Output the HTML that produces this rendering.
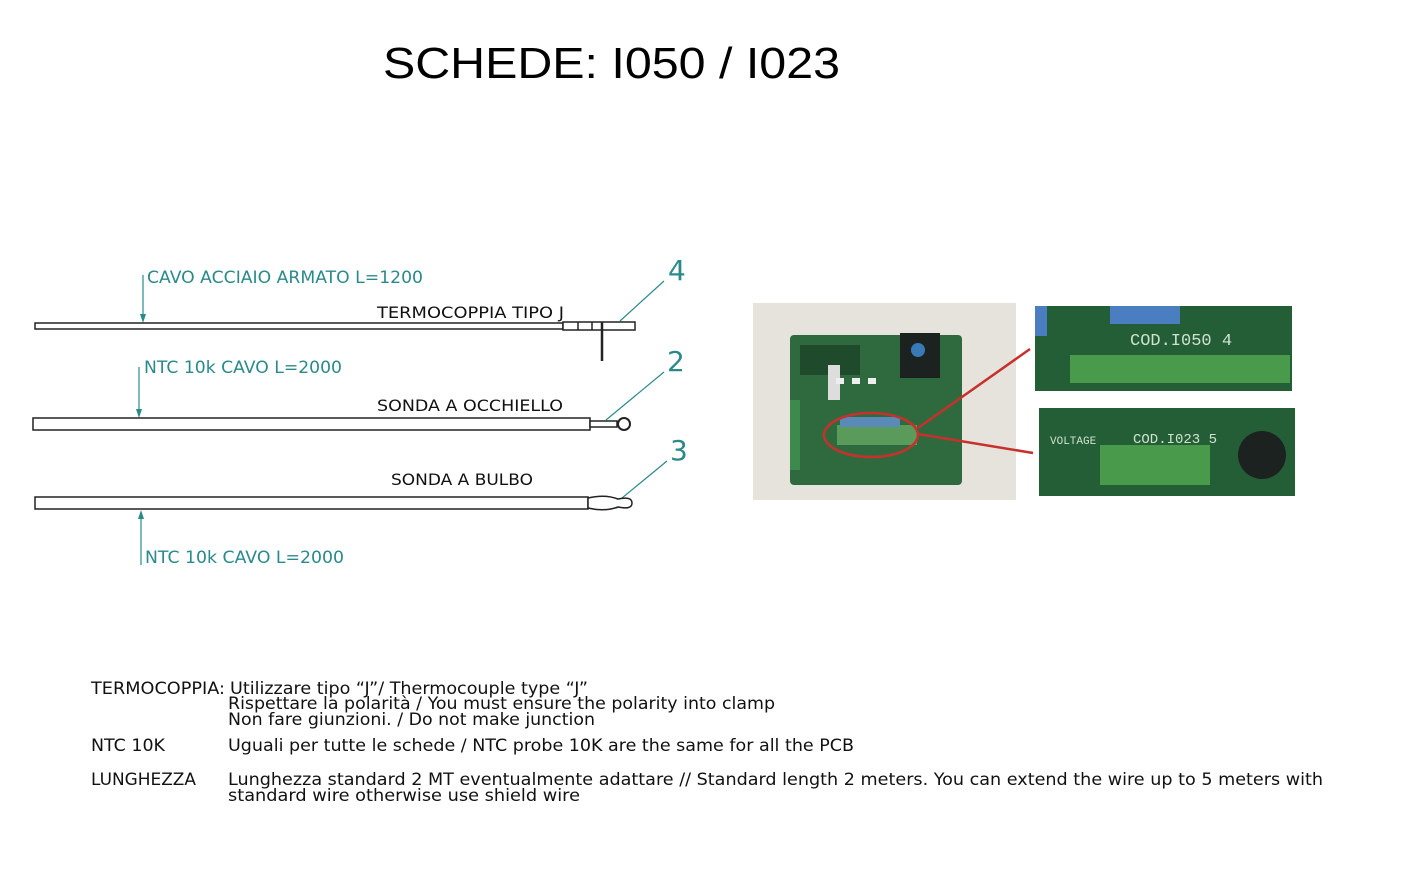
<!DOCTYPE html>
<html><head><meta charset="utf-8"><style>
html,body{margin:0;padding:0;background:#fff;}
svg{display:block;font-family:"DejaVu Sans","Liberation Sans",sans-serif;}
</style></head><body>
<svg width="1410" height="879" viewBox="0 0 1410 879" xmlns="http://www.w3.org/2000/svg">
<rect width="1410" height="879" fill="#fff"/>
<text x="383" y="78" font-size="44" font-family="Liberation Sans, sans-serif" textLength="457" lengthAdjust="spacingAndGlyphs">SCHEDE: I050 / I023</text>

<g stroke="#2a8a8a" fill="#2a8a8a" stroke-width="1.2">
<line x1="143" y1="275" x2="143" y2="320"/><polygon points="140,314 146,314 143,323" stroke="none"/>
<line x1="139" y1="367" x2="139" y2="414"/><polygon points="136,409 142,409 139,418" stroke="none"/>
<line x1="141" y1="565" x2="141" y2="514"/><polygon points="138,519 144,519 141,510" stroke="none"/>
<line x1="664" y1="281" x2="620" y2="321"/>
<line x1="664" y1="372" x2="606" y2="420"/>
<line x1="667" y1="461" x2="622" y2="498"/>
</g>
<g fill="#2a8a8a" font-size="17">
<text x="147" y="283" textLength="276" lengthAdjust="spacingAndGlyphs">CAVO ACCIAIO ARMATO L=1200</text>
<text x="144" y="373" textLength="198" lengthAdjust="spacingAndGlyphs">NTC 10k CAVO L=2000</text>
<text x="145" y="563" textLength="199" lengthAdjust="spacingAndGlyphs">NTC 10k CAVO L=2000</text>
<text x="668" y="280" font-size="28">4</text>
<text x="667" y="371" font-size="28">2</text>
<text x="670" y="460" font-size="28">3</text>
</g>
<g fill="#111" font-size="16">
<text x="377" y="318" textLength="187" lengthAdjust="spacingAndGlyphs">TERMOCOPPIA TIPO J</text>
<text x="377" y="411" textLength="186" lengthAdjust="spacingAndGlyphs">SONDA A OCCHIELLO</text>
<text x="391" y="485" textLength="142" lengthAdjust="spacingAndGlyphs">SONDA A BULBO</text>
</g>
<g fill="#fff" stroke="#222" stroke-width="1.5">
<rect x="35" y="323" width="528" height="6"/>
<rect x="563" y="322" width="72" height="8"/>
<line x1="578" y1="322" x2="578" y2="330"/>
<line x1="592" y1="322" x2="592" y2="330"/>
<line x1="602" y1="322" x2="602" y2="361" stroke-width="2.5"/>
<rect x="33" y="418" width="557" height="12"/>
<rect x="590" y="421" width="27" height="6"/>
<circle cx="624" cy="424" r="6" stroke-width="2"/>
<rect x="35" y="497" width="553" height="12"/>
<path d="M588,498 Q605,494 618,499 Q632,496 632,503 Q632,510 618,507 Q605,512 588,508 Z"/>
</g>

<rect x="753" y="303" width="263" height="197" fill="#e6e3dc"/>
<rect x="790" y="335" width="172" height="150" fill="#2f6a3e" rx="4"/>
<rect x="800" y="345" width="60" height="30" fill="#1f4a2c"/>
<rect x="900" y="333" width="40" height="45" fill="#1c2220"/>
<circle cx="918" cy="350" r="7" fill="#3a79b8"/>
<rect x="828" y="365" width="12" height="35" fill="#ddd"/>
<rect x="836" y="378" width="8" height="6" fill="#eee"/><rect x="852" y="378" width="8" height="6" fill="#eee"/><rect x="868" y="378" width="8" height="6" fill="#eee"/>
<rect x="790" y="400" width="10" height="70" fill="#3c8a4c"/>
<rect x="837" y="425" width="80" height="20" fill="#5a9a5a"/>
<rect x="840" y="417" width="60" height="10" fill="#5a8ab8"/>
<ellipse cx="871" cy="435" rx="47" ry="22" fill="none" stroke="#c8302c" stroke-width="2.5"/>
<line x1="918" y1="428" x2="1030" y2="349" stroke="#c8302c" stroke-width="2.5"/>
<line x1="918" y1="434" x2="1033" y2="453" stroke="#c8302c" stroke-width="2.5"/>

<rect x="1035" y="306" width="257" height="85" fill="#245e36"/>
<rect x="1110" y="306" width="70" height="18" fill="#4a7ec0"/>
<rect x="1035" y="306" width="12" height="30" fill="#4a7ec0"/>
<rect x="1070" y="355" width="220" height="28" fill="#4a9a4c"/>
<text x="1130" y="345" fill="#cfe2cf" font-size="17" font-family="Liberation Mono, monospace">COD.I050 4</text>
<rect x="1039" y="408" width="256" height="88" fill="#245e36"/>
<rect x="1100" y="445" width="110" height="40" fill="#4a9a4c"/>
<circle cx="1262" cy="455" r="24" fill="#1c2220"/>
<text x="1050" y="444" fill="#cfe2cf" font-size="11" font-family="Liberation Mono, monospace">VOLTAGE</text>
<text x="1133" y="443" fill="#cfe2cf" font-size="14" font-family="Liberation Mono, monospace">COD.I023 5</text>

<g fill="#111" font-size="17">
<text x="91" y="694" textLength="134" lengthAdjust="spacingAndGlyphs">TERMOCOPPIA:</text>
<text x="230" y="694" textLength="358" lengthAdjust="spacingAndGlyphs">Utilizzare tipo “J”/ Thermocouple type “J”</text>
<text x="228" y="709" textLength="547" lengthAdjust="spacingAndGlyphs">Rispettare la polarità / You must ensure the polarity into clamp</text>
<text x="228" y="725" textLength="367" lengthAdjust="spacingAndGlyphs">Non fare giunzioni. / Do not make junction</text>
<text x="91" y="751" textLength="74" lengthAdjust="spacingAndGlyphs">NTC 10K</text>
<text x="228" y="751" textLength="626" lengthAdjust="spacingAndGlyphs">Uguali per tutte le schede / NTC probe 10K are the same for all the PCB</text>
<text x="91" y="785" textLength="105" lengthAdjust="spacingAndGlyphs">LUNGHEZZA</text>
<text x="228" y="785" textLength="1095" lengthAdjust="spacingAndGlyphs">Lunghezza standard 2 MT eventualmente adattare // Standard length 2 meters. You can extend the wire up to 5 meters with</text>
<text x="228" y="801" textLength="352" lengthAdjust="spacingAndGlyphs">standard wire otherwise use shield wire</text>
</g>
</svg>
</body></html>
